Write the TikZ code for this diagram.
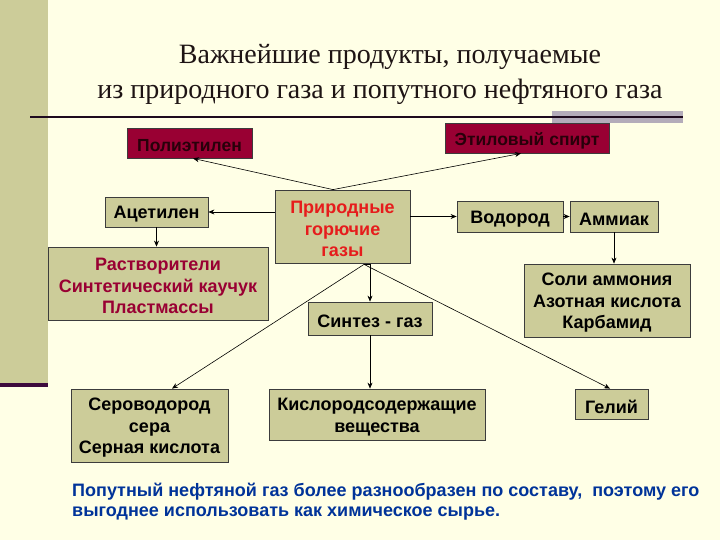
\documentclass[tikz,border=0pt]{standalone}
\usepackage{fontspec}
\setmainfont{Liberation Serif}
\newfontfamily\boxfont{Liberation Sans}
\usetikzlibrary{arrows.meta,calc}
\definecolor{bg}{RGB}{255,255,230}
\definecolor{olive}{RGB}{204,204,153}
\definecolor{crimson}{RGB}{153,0,51}
\definecolor{darkred}{RGB}{153,0,51}
\definecolor{brightred}{RGB}{230,28,28}
\definecolor{navy}{RGB}{0,51,153}
\definecolor{strip}{RGB}{61,10,61}
\definecolor{graybar}{RGB}{180,172,186}
\definecolor{edge}{RGB}{60,60,60}
\definecolor{polytext}{RGB}{40,0,10}
\tikzset{
  box/.style={draw=edge, line width=0.8pt, fill=olive, inner sep=0pt},
  redbox/.style={box, fill=crimson},
  lbl/.style={inner sep=0pt, align=center, text=black,
    font=\boxfont\bfseries\fontsize{18}{21.5}\selectfont},
  redlbl/.style={lbl, text=polytext, font=\boxfont\bfseries\fontsize{17.5}{21}\selectfont},
  titlelbl/.style={anchor=base, inner sep=0pt, text={rgb,255:red,30;green,20;blue,20},
    font=\fontsize{28}{34}\selectfont},
  conn/.style={line width=0.6pt, draw=black, -{Stealth[length=6pt,width=5pt]}}
}
\begin{document}
\begin{tikzpicture}[x=1pt,y=-1pt]
\useasboundingbox (0,0) rectangle (720,540);
\fill[bg] (0,0) rectangle (720,540);
\fill[olive] (0,0) rectangle (48,383);
\fill[strip] (0,383) rectangle (48,386.5);
\fill[graybar] (552,111) rectangle (683,123);
\draw[line width=1.5pt, color={rgb,255:red,30;green,10;blue,30}] (30,117) -- (683,117);
\node[titlelbl] (title1) at (390,64) {Важнейшие продукты, получаемые};
\node[titlelbl] (title2) at (380,99) {из природного газа и попутного нефтяного газа};

\node[redbox, minimum width=125pt, minimum height=30pt] (poly) at (189.5,143) {};
\node[redbox, minimum width=164pt, minimum height=30pt] (etil) at (527,138) {};
\node[box, minimum width=135pt, minimum height=73pt] (prir) at (342.5,226.5) {};
\node[box, minimum width=103pt, minimum height=30pt] (acet) at (156.5,212) {};
\node[box, minimum width=220pt, minimum height=73pt] (rast) at (158,283.5) {};
\node[box, minimum width=106pt, minimum height=31pt] (vodo) at (510,216.5) {};
\node[box, minimum width=88pt, minimum height=31pt] (ammi) at (614,216.5) {};
\node[box, minimum width=166pt, minimum height=73pt] (soli) at (607,300.5) {};
\node[box, minimum width=124pt, minimum height=33pt] (sint) at (370,318.5) {};
\node[box, minimum width=157pt, minimum height=73pt] (sero) at (149.5,425.5) {};
\node[box, minimum width=216pt, minimum height=51pt] (kisl) at (377,414.5) {};
\node[box, minimum width=73pt, minimum height=30pt] (geli) at (611.5,404) {};

\node[redlbl] (poly-t) at ($(poly)+(0,2.5)$) {Полиэтилен};
\node[redlbl] (etil-t) at ($(etil)+(0,2.5)$) {Этиловый спирт};
\node[lbl, text=brightred] (prir-t) at ($(prir)+(0,2.5)$) {Природные\\горючие\\газы};
\node[lbl] (acet-t) at ($(acet)+(0,2.5)$) {Ацетилен};
\node[lbl, text=darkred] (rast-t) at ($(rast)+(0,2.5)$) {Растворители\\Синтетический каучук\\Пластмассы};
\node[lbl] (vodo-t) at ($(vodo)+(0,2.5)$) {Водород};
\node[lbl] (ammi-t) at ($(ammi)+(0,2.5)$) {Аммиак};
\node[lbl] (soli-t) at ($(soli)+(0,2.5)$) {Соли аммония\\Азотная кислота\\Карбамид};
\node[lbl] (sint-t) at ($(sint)+(0,2.5)$) {Синтез - газ};
\node[lbl] (sero-t) at ($(sero)+(0,2.5)$) {Сероводород\\сера\\Серная кислота};
\node[lbl] (kisl-t) at ($(kisl)+(0,2.5)$) {Кислородсодержащие\\вещества};
\node[lbl] (geli-t) at ($(geli)+(0,2.5)$) {Гелий};

\coordinate (ptop) at ($(prir.north)+(-9.5,0)$);
\coordinate (pbot) at ($(prir.south)+(21.5,1)$);
\draw[conn] (ptop) -- ($(poly.south)+(3.5,0)$);
\draw[conn] (ptop) -- ($(etil.south)+(-6,0)$);
\draw[conn] (acet.east -| prir.west) -- (acet.east);
\draw[conn] (acet.south) -- (acet.south |- rast.north);
\draw[conn] (vodo.west -| prir.east) -- (vodo.west);
\draw[conn] (vodo.east) -- (ammi.west);
\draw[conn] (ammi.south) -- (ammi.south |- soli.north);
\draw[conn] (pbot) -- (pbot -| sint.north) -- (sint.north);
\draw[conn] (pbot) -- ($(sero.north)+(22.5,0)$);
\draw[conn] (pbot) -- ($(geli.north)+(-1.5,0)$);
\draw[conn] (sint.south) -- (sint.south |- kisl.north);

\node[anchor=base west, align=left, text=navy, inner sep=0pt,
  font=\boxfont\bfseries\fontsize{18}{20}\selectfont] (note) at (72,516)
  {Попутный нефтяной газ более разнообразен по составу,\ \ поэтому его\\выгоднее использовать как химическое сырье.};
\end{tikzpicture}
\end{document}
